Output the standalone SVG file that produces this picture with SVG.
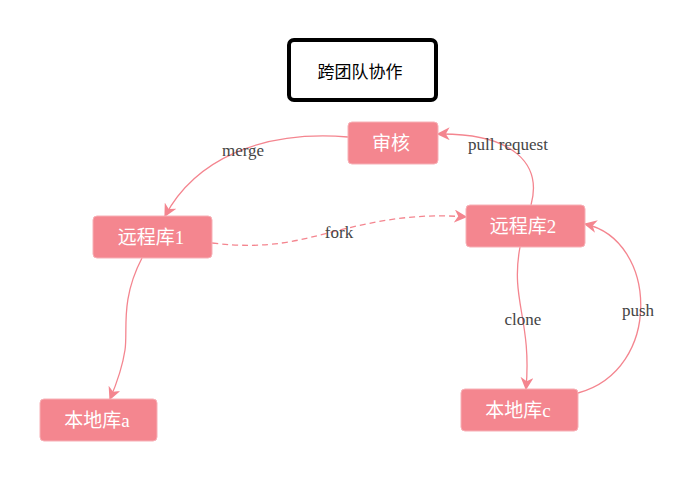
<svg xmlns="http://www.w3.org/2000/svg" width="679" height="481" viewBox="0 0 679 481">
<defs>
<marker id="arr" viewBox="0 0 10 10" refX="9" refY="5" markerWidth="13" markerHeight="13" markerUnits="userSpaceOnUse" orient="auto">
<path d="M0,0 L10,5 L0,10 L3,5 Z" fill="#f4858f"/>
</marker>
<style>
.node rect{fill:#f4868f;stroke:#f7b0b6;stroke-width:1}
.node text{fill:#fff;font-family:"Liberation Serif","Noto Sans CJK SC",serif;font-size:19px;text-anchor:middle;dominant-baseline:central}
.edge{fill:none;stroke:#f4858f;stroke-width:1.3;marker-end:url(#arr)}
.dash{stroke-dasharray:6,4}
.lbl{fill:#444;font-family:"Liberation Serif","Noto Sans CJK SC",serif;font-size:17px;text-anchor:middle;dominant-baseline:central}
</style>
</defs>
<rect width="679" height="481" fill="#fff"/>
<g id="title">
<rect x="289" y="40" width="147" height="60" rx="5" fill="#fff" stroke="#000" stroke-width="4"/>
<text x="360" y="70" font-family="'Noto Sans CJK SC',sans-serif" font-size="17" text-anchor="middle" dominant-baseline="central" fill="#000">跨团队协作</text>
</g>
<g id="connectors">
<path class="edge" d="M348,137 C 260,130 195,160 165,216"/>
<path class="edge dash" d="M212,243 C 270,250 300,240 340,230 C 380,220 420,213 466,217"/>
<path class="edge" d="M531,205 C 542,165 515,133 438,134"/>
<path class="edge" d="M520,247 C 510,300 532,320 526,389"/>
<path class="edge" d="M578,393 C 663,370 658,240 585,224"/>
<path class="edge" d="M142,258 C 120,300 128,330 125,350 C 122,370 116,385 110,399"/>
<text class="lbl" x="243" y="150">merge</text>
<text class="lbl" x="339" y="232">fork</text>
<text class="lbl" x="508" y="144">pull request</text>
<text class="lbl" x="523" y="319">clone</text>
<text class="lbl" x="638" y="310">push</text>
</g>
<g id="n-audit" class="node"><rect x="348" y="122" width="90" height="42" rx="4"/><text x="391" y="143">审核</text></g>
<g id="n-remote1" class="node"><rect x="93" y="216" width="119" height="42" rx="4"/><text x="151" y="237">远程库1</text></g>
<g id="n-remote2" class="node"><rect x="466" y="205" width="119" height="42" rx="4"/><text x="523" y="226">远程库2</text></g>
<g id="n-locala" class="node"><rect x="40" y="399" width="117" height="42" rx="4"/><text x="97" y="420">本地库a</text></g>
<g id="n-localc" class="node"><rect x="461" y="389" width="117" height="42" rx="4"/><text x="518" y="410">本地库c</text></g>
</svg>
